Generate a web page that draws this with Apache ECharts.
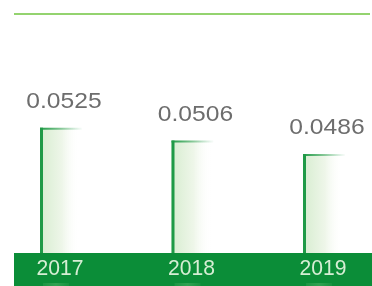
<!DOCTYPE html>
<html>
<head>
<meta charset="utf-8">
<script src="https://cdn.jsdelivr.net/npm/echarts@6/dist/echarts.min.js"></script>
<style>
  html, body { margin: 0; padding: 0; background: #fff; }
  #chart { width: 372px; height: 286px; }
</style>
</head>
<body>
<div id="chart"></div>
<script>
var years = ['2017', '2018', '2019'];
var values = [0.0525, 0.0506, 0.0486];

var chart = echarts.init(document.getElementById('chart'));

function renderBar(params, api) {
  var idx = api.value(0);
  var top = api.coord([idx, api.value(1)]);
  var base = api.coord([idx, 0.034]);
  var x = top[0] - 21;
  var w = 44;
  var h = base[1] - top[1];
  return {
    type: 'group',
    children: [
      {
        type: 'rect',
        shape: { x: x, y: top[1], width: w, height: h },
        style: {
          fill: new echarts.graphic.LinearGradient(0, 0, 1, 0, [
            { offset: 0, color: '#d7edd0' },
            { offset: 0.5, color: '#eef6e9' },
            { offset: 0.9, color: 'rgba(255,255,255,0)' }
          ])
        }
      },
      {
        type: 'line',
        shape: { x1: x + 1.5, y1: top[1], x2: x + 1.5, y2: base[1] },
        style: { stroke: '#1f9a47', lineWidth: 3 }
      },
      {
        type: 'line',
        shape: { x1: x, y1: top[1] + 1, x2: x + 42, y2: top[1] + 1 },
        style: {
          stroke: new echarts.graphic.LinearGradient(0, 0, 1, 0, [
            { offset: 0, color: '#1f9a47' },
            { offset: 1, color: 'rgba(31,154,71,0)' }
          ]),
          lineWidth: 2
        }
      },
      {
        type: 'text',
        x: top[0] + 3,
        y: top[1] - 15,
        scaleX: 1.12,
        style: {
          text: api.value(1).toFixed(4),
          fill: '#6d6d6d',
          font: '22px "Liberation Sans", Arial, sans-serif',
          align: 'center',
          verticalAlign: 'bottom'
        }
      },
      {
        type: 'text',
        x: top[0] - 1,
        y: base[1] + 16,
        scaleX: 0.96,
        style: {
          text: years[idx],
          fill: '#d6eed4',
          font: '22px "Liberation Sans", Arial, sans-serif',
          align: 'center',
          verticalAlign: 'middle'
        }
      },
      {
        type: 'rect',
        shape: { x: x + 3, y: base[1] + 30, width: 26, height: 3 },
        style: {
          fill: new echarts.graphic.LinearGradient(0, 0, 1, 0, [
            { offset: 0, color: 'rgba(120,200,130,0.15)' },
            { offset: 0.5, color: 'rgba(120,200,130,0.35)' },
            { offset: 1, color: 'rgba(120,200,130,0.1)' }
          ])
        }
      }
    ]
  };
}

var option = {
  animation: false,
  grid: { left: 0, right: 0, top: 104, bottom: 33 },
  graphic: [
    {
      type: 'rect',
      z: 1,
      shape: { x: 14, y: 253, width: 358, height: 33 },
      style: { fill: '#0b8d38' }
    },
    {
      type: 'rect',
      z: 1,
      shape: { x: 14, y: 13, width: 356, height: 2 },
      style: { fill: '#94d36f' }
    }
  ],
  xAxis: {
    type: 'value',
    min: -0.4639,
    max: 2.365,
    show: false,
    splitLine: { show: false }
  },
  yAxis: {
    type: 'value',
    min: 0.034,
    max: 0.056,
    show: false,
    splitLine: { show: false }
  },
  series: [
    {
      type: 'custom',
      z: 5,
      renderItem: renderBar,
      encode: { x: 0, y: 1 },
      data: years.map(function (y, i) { return [i, values[i]]; })
    }
  ]
};

chart.setOption(option);
</script>
</body>
</html>
